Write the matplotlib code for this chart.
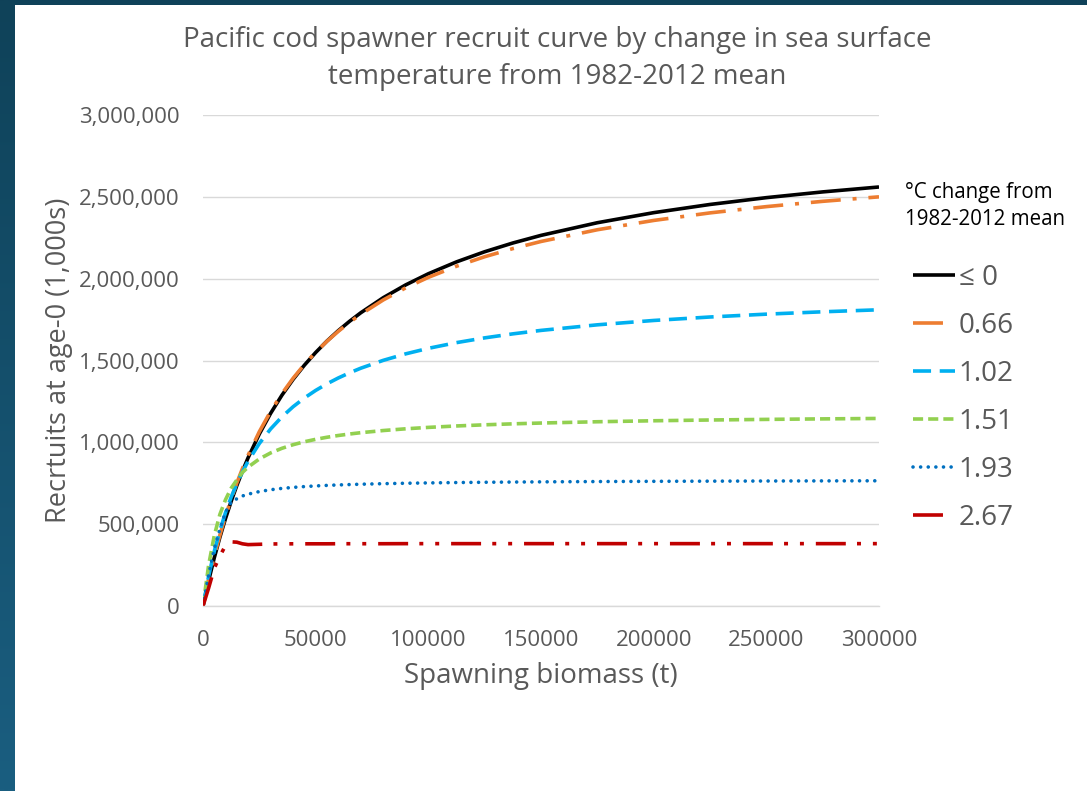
import matplotlib
matplotlib.use("Agg")
import matplotlib.pyplot as plt
import numpy as np
from matplotlib.patches import Rectangle
from matplotlib.lines import Line2D
from matplotlib.ticker import FuncFormatter, MultipleLocator

plt.rcParams['font.family'] = ['Open Sans', 'DejaVu Sans']

# Spawning biomass (t)
biomass = [0, 2500, 5000, 7500, 10000, 12500, 15000, 17500, 20000, 25000, 30000,
           35000, 40000, 45000, 50000, 55000, 60000, 65000, 70000, 80000, 90000,
           100000, 112500, 125000, 137500, 150000, 175000, 200000, 225000,
           250000, 275000, 300000]

# Recruits at age-0 (1,000s) for each SST change scenario
rec_le0 = [0, 154800, 294200, 420200, 534900, 639500, 735500, 823800, 905300,
           1050900, 1177000, 1287500, 1384800, 1471500, 1548900, 1618700,
           1681800, 1739100, 1791500, 1883800, 1962300, 2030000, 2102600,
           2164500, 2217900, 2264500, 2341800, 2403300, 2453400, 2495000,
           2530100, 2560200]
rec_066 = [0, 160500, 303900, 432700, 549100, 654900, 751300, 839600, 920800,
           1065000, 1189100, 1297000, 1391800, 1475600, 1550400, 1617400,
           1677900, 1732600, 1782500, 1870000, 1944300, 2008000, 2076100,
           2134000, 2183800, 2227200, 2298900, 2355700, 2401900, 2440200,
           2472500, 2500000]
rec_102 = [0, 182800, 334300, 462000, 571000, 665200, 747400, 819800, 884000,
           992900, 1081600, 1155400, 1217700, 1271000, 1317200, 1357400,
           1393000, 1424500, 1452800, 1501000, 1540800, 1574300, 1609200,
           1638300, 1662800, 1683900, 1718000, 1744600, 1765800, 1783200,
           1797600, 1809900]
rec_151 = [0, 250000, 430000, 560000, 650000, 720000, 770000, 816100, 848600,
           898500, 935300, 963400, 985600, 1003600, 1018400, 1031000, 1041700,
           1050800, 1058900, 1072100, 1082700, 1091300, 1100000, 1107100,
           1113000, 1117900, 1125800, 1131800, 1136500, 1140200, 1143300,
           1145900]
rec_193 = [0, 190000, 350000, 470000, 575000, 635000, 655000, 672200, 683200,
           699200, 710300, 718500, 724700, 729600, 733600, 736900, 739700,
           742000, 744100, 747400, 750000, 752100, 754300, 756000, 757300,
           758500, 760400, 761700, 762800, 763700, 764400, 765000]
rec_267 = [0, 110000, 230000, 305000, 370000, 392000, 390000, 380000, 375000,
           377000, 379000, 379500, 380000, 380000, 380000, 380000, 380500,
           380500, 380500, 380500, 381000, 381000, 381000, 381000, 381000,
           381000, 381000, 381000, 381000, 381000, 381000, 381000]

series_labels = ['\u2264 0', '0.66', '1.02', '1.51', '1.93', '2.67']
series_values = [rec_le0, rec_066, rec_102, rec_151, rec_193, rec_267]
series_colors = ['#000000', '#ED7D31', '#00B0F0', '#92D050', '#0070C0', '#C00000']
series_dashes = [None,
                 (0, (8.3, 3.3, 1.1, 3.3)),
                 (0, (5.0, 2.4)),
                 (0, (2.8, 1.4)),
                 (0, (0.01, 2.1)),
                 (0, (8.3, 3.1, 1.1, 3.3, 1.1, 3.3))]

title_text = ('Pacific cod spawner recruit curve by change in sea surface\n'
              'temperature from 1982-2012 mean')
legend_title = '\u00b0C change from\n1982-2012 mean'
x_label = 'Spawning biomass (t)'
y_label = 'Recrtuits at age-0 (1,000s)'

W, H = 1087, 791
fig = plt.figure(figsize=(W / 100, H / 100), dpi=100)
fig.patch.set_facecolor('white')

# Slide background: dark teal frame on the top and left edges
bg = fig.add_axes([0, 0, 1, 1], zorder=-10)
bg.set_xlim(0, W)
bg.set_ylim(H, 0)
bg.axis('off')
top_c = np.array([0x0F, 0x42, 0x59]) / 255
bot_c = np.array([0x1A, 0x5E, 0x80]) / 255
t = np.linspace(0, 1, 256)[:, None]
grad = (top_c[None, :] * (1 - t) + bot_c[None, :] * t)[:, None, :]
bg.imshow(grad, extent=(0, W, H, 0), aspect='auto', interpolation='bilinear')
bg.add_patch(Rectangle((15, 5), W - 15, H - 5, facecolor='white', edgecolor='none'))

ax = fig.add_axes([203 / W, 1 - 606 / H, (879 - 203) / W, (606 - 115) / H])
ax.set_facecolor('none')

text_gray = '#595959'
handles = []
for vals, lab, col, ds in zip(series_values, series_labels, series_colors, series_dashes):
    kw = dict(color=col, lw=2.6, label=lab, solid_capstyle='butt',
              solid_joinstyle='round')
    if ds is not None:
        kw['linestyle'] = ds
        kw['dash_capstyle'] = 'round' if lab == '1.93' else 'butt'
    line, = ax.plot(biomass, vals, **kw)
    # dash-dot styles show only their leading dash in the key
    if ds is not None and len(ds[1]) > 2:
        handles.append(Line2D([], [], color=col, lw=2.6, linestyle=(0, (ds[1][0], 20)),
                              dash_capstyle='butt', label=lab))
    else:
        handles.append(line)

ax.set_xlim(0, 300000)
ax.set_ylim(0, 3000000)
ax.xaxis.set_major_locator(MultipleLocator(50000))
ax.yaxis.set_major_locator(MultipleLocator(500000))
ax.yaxis.set_major_formatter(FuncFormatter(lambda v, p: f'{int(v):,}'))
ax.xaxis.set_major_formatter(FuncFormatter(lambda v, p: f'{int(v)}'))
ax.grid(axis='y', color='#D9D9D9', lw=1.0)
ax.set_axisbelow(True)
for s in ['top', 'right', 'left']:
    ax.spines[s].set_visible(False)
ax.spines['bottom'].set_color('#D9D9D9')
ax.spines['bottom'].set_linewidth(1.0)
ax.tick_params(length=0, labelsize=16, labelcolor=text_gray)
ax.tick_params(axis='y', pad=17)
ax.tick_params(axis='x', pad=17)

ax.set_xlabel(x_label, fontsize=20, color=text_gray, labelpad=8)
ax.set_ylabel(y_label, fontsize=19.5, color=text_gray, labelpad=4)

fig.text(557 / W, 1 - 58.5 / H, title_text, ha='center', va='center',
         fontsize=20, color=text_gray, linespacing=1.45)

fig.text(905 / W, 1 - 206 / H, legend_title, ha='left', va='center',
         fontsize=14.8, color='#000000', linespacing=1.4)

leg = fig.legend(handles=handles, loc='upper left', bbox_to_anchor=(913 / W, 1 - 264 / H),
                 frameon=False, fontsize=20, handlelength=1.5, handletextpad=0.15,
                 labelspacing=0.72, borderpad=0, borderaxespad=0)
for txt in leg.get_texts():
    txt.set_color(text_gray)

fig.savefig('out.png', dpi=100)
